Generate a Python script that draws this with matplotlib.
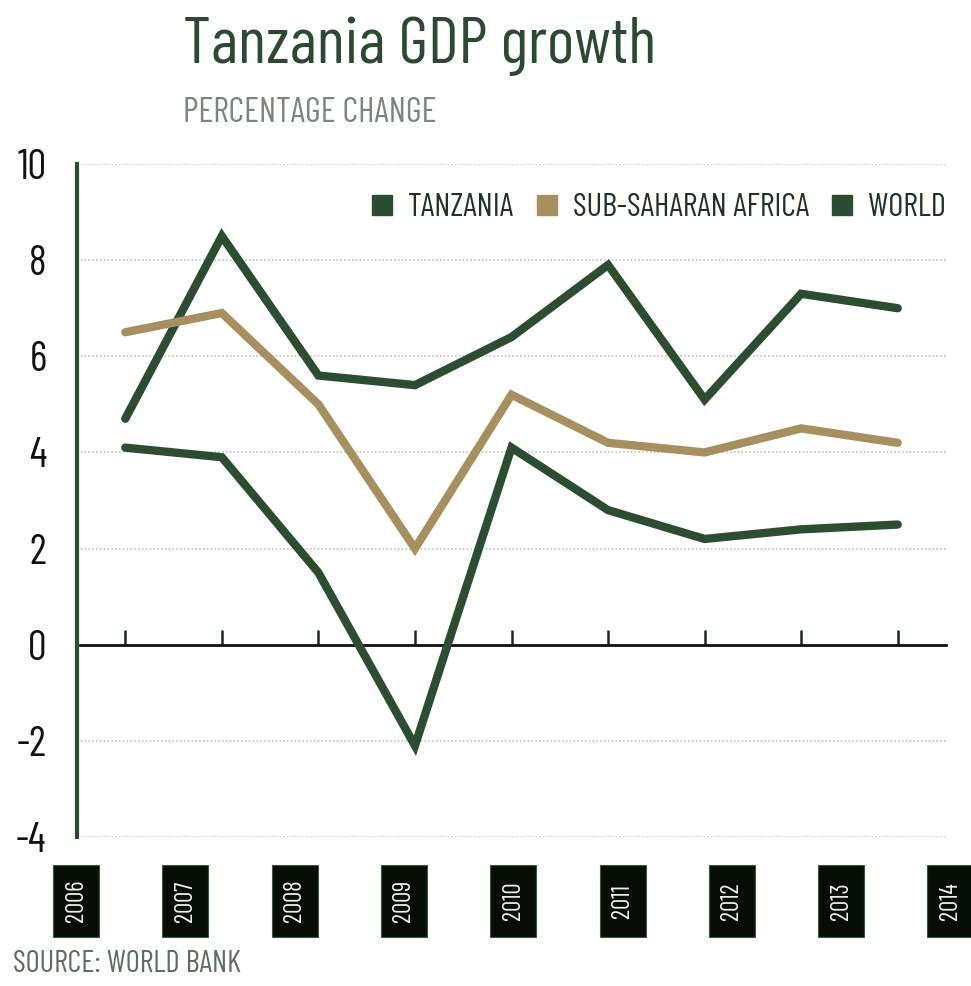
import matplotlib
matplotlib.use("Agg")
import matplotlib.pyplot as plt
from matplotlib import font_manager
from matplotlib.lines import Line2D
from matplotlib.patches import Rectangle

# data
years = ['2006', '2007', '2008', '2009', '2010', '2011', '2012', '2013', '2014']
tanzania = [4.7, 8.5, 5.6, 5.4, 6.4, 7.9, 5.1, 7.3, 7.0]
ssa = [6.5, 6.9, 5.0, 2.0, 5.2, 4.2, 4.0, 4.5, 4.2]
world = [4.1, 3.9, 1.5, -2.1, 4.1, 2.8, 2.2, 2.4, 2.5]
series_names = ['TANZANIA', 'SUB-SAHARAN AFRICA', 'WORLD']
yticks = [-4, -2, 0, 2, 4, 6, 8, 10]

green = '#2b4d30'
tan = '#a88f5e'
colors = [green, tan, green]

# pick a condensed face if one is installed
installed = set(f.name for f in font_manager.fontManager.ttflist)
cands = ['Barlow Condensed', 'Roboto Condensed', 'Archivo Narrow',
         'PT Sans Narrow', 'Liberation Sans Narrow']
font = next((c for c in cands if c in installed), 'DejaVu Sans')
plt.rcParams['font.family'] = [font, 'DejaVu Sans']
plt.rcParams['axes.unicode_minus'] = False

fig = plt.figure(figsize=(9.71, 9.86), dpi=100)
ax = fig.add_axes([77 / 971, 1 - 837 / 986, 869 / 971, 673 / 986])

x = list(range(len(years)))
for vals, c in zip([tanzania, ssa, world], colors):
    ax.plot(x, vals, color=c, lw=6, solid_capstyle='round',
            solid_joinstyle='miter', zorder=3)

ax.set_xlim(-0.5, 8.5)
ax.set_ylim(-4, 10)

# dotted grid lines (not at zero)
for v in yticks:
    if v != 0:
        ax.axhline(v, color='#b8b8b8', lw=1.1, ls=(0, (1, 1.5)), zorder=1)

for s in ['top', 'right']:
    ax.spines[s].set_visible(False)
ax.spines['left'].set_color(green)
ax.spines['left'].set_linewidth(3)
ax.spines['bottom'].set_position(('data', 0))
ax.spines['bottom'].set_color('#111111')
ax.spines['bottom'].set_linewidth(2)
ax.spines['bottom'].set_zorder(2)

ax.set_xticks(x)
ax.tick_params(axis='x', direction='in', length=11, width=1.8,
               color='#1a2a1c', labelbottom=False)
ax.set_yticks(yticks)
ax.set_yticklabels([str(v) for v in yticks])
ax.tick_params(axis='y', length=0, pad=22, labelsize=30, labelcolor='#111111')

# legend with square handles
handles = [Line2D([], [], ls='none', marker='s', markersize=15, color=c)
           for c in colors]
fig.legend(handles, series_names, loc='center right',
           bbox_to_anchor=(946 / 971, 1 - 208 / 986), ncol=3, frameon=False,
           fontsize=23.5, handlelength=0.7, handletextpad=0.45,
           columnspacing=0.65, borderpad=0, borderaxespad=0,
           labelcolor='#1f3324')

# title and subtitle
fig.text(183 / 971, 1 - 63 / 986, 'Tanzania GDP growth', fontsize=47.3,
         color='#2c4a31', va='baseline', ha='left')
fig.text(183 / 971, 1 - 122 / 986, 'PERCENTAGE CHANGE', fontsize=25,
         color='#7b877e', va='baseline', ha='left')

# year labels in black boxes
for i, yr in enumerate(years):
    cx = (76 + 109.3 * i) / 971
    w = 46 / 971
    fig.patches.append(Rectangle((cx - w / 2, 1 - 937 / 986), w, 72 / 986,
                                 transform=fig.transFigure,
                                 facecolor='#060d07', edgecolor='#3a5a3e',
                                 lw=0.8))
    fig.text(cx, 1 - 901 / 986, yr, rotation=90, ha='center', va='center',
             fontsize=18, color='#eef2ee')

fig.text(13 / 971, 1 - 972 / 986, 'SOURCE: WORLD BANK', fontsize=22,
         color='#5e6d62', va='baseline', ha='left')

fig.savefig('out.png', dpi=100)
